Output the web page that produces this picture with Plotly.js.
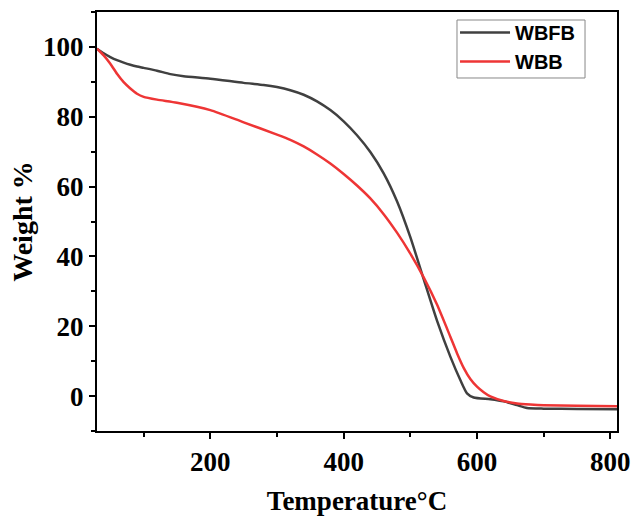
<!DOCTYPE html>
<html>
<head>
<meta charset="utf-8">
<script src="https://cdn.plot.ly/plotly-3.0.1.min.js"></script>
<style>html,body{margin:0;padding:0;background:#fff;}#chart{width:633px;height:516px;}</style>
</head>
<body>
<div id="chart"></div>
<script>
// WBFB series (temperature °C, weight %)
var wbfbTemp = [30, 40, 50, 60, 70, 80, 90, 100, 120, 140, 160, 200, 250, 280, 300, 320, 340, 360, 380, 400, 420, 440, 460, 480, 500, 520, 540, 560, 575, 585, 595, 620, 640, 660, 675, 700, 750, 810];
var wbfbWeight = [99.5, 98.2, 97.1, 96.2, 95.5, 94.9, 94.4, 94.0, 93.2, 92.2, 91.6, 90.9, 89.7, 89.1, 88.5, 87.6, 86.3, 84.4, 81.9, 78.7, 74.7, 69.9, 63.8, 55.8, 45.5, 33.5, 21.6, 11.3, 4.6, 0.8, -0.4, -0.9, -1.5, -2.6, -3.4, -3.6, -3.7, -3.8];

// WBB series
var wbbTemp = [30, 40, 50, 60, 70, 80, 90, 100, 120, 150, 200, 250, 300, 320, 340, 360, 380, 400, 420, 440, 460, 480, 500, 520, 540, 560, 570, 580, 590, 600, 610, 620, 640, 660, 680, 700, 750, 810];
var wbbWeight = [99.5, 97.6, 95.2, 92.3, 89.9, 88.1, 86.6, 85.7, 84.9, 84.0, 81.9, 78.4, 74.9, 73.4, 71.5, 69.2, 66.6, 63.6, 60.3, 56.6, 52.1, 46.8, 40.8, 34.0, 26.2, 17.0, 12.3, 8.1, 4.9, 2.7, 1.1, -0.1, -1.4, -2.1, -2.4, -2.6, -2.8, -2.9];

var seriesNames = ['WBFB', 'WBB'];
var xTicks = [200, 400, 600, 800];
var yTicks = [0, 20, 40, 60, 80, 100];

var serif = 'Liberation Serif, Times New Roman, serif';
var traces = [
  {x: wbfbTemp, y: wbfbWeight, name: seriesNames[0], type: 'scatter', mode: 'lines',
   line: {color: '#404040', width: 2.5, shape: 'spline', smoothing: 0.6}},
  {x: wbbTemp, y: wbbWeight, name: seriesNames[1], type: 'scatter', mode: 'lines',
   line: {color: '#ee3535', width: 2.5, shape: 'spline', smoothing: 0.6}}
];

var axisCommon = {
  showline: true, mirror: true, linecolor: '#000', linewidth: 2,
  ticks: 'outside', ticklen: 6, tickwidth: 2, tickcolor: '#000',
  showgrid: false, zeroline: false,
  tickfont: {family: serif, size: 27, color: '#000', weight: 'bold'}
};

var layout = {
  width: 633, height: 516,
  margin: {l: 97, r: 16, t: 12, b: 85},
  paper_bgcolor: '#fff', plot_bgcolor: '#fff',
  showlegend: true,
  legend: {x: 0.6885, y: 0.9976, xanchor: 'left', yanchor: 'top',
    borderwidth: 0, bgcolor: 'rgba(0,0,0,0)',
    font: {family: 'Liberation Sans, Arial, sans-serif', size: 20, color: '#000', weight: 'bold'},
    itemwidth: 50, tracegroupgap: 0},
  shapes: [{type: 'rect', xref: 'paper', yref: 'paper',
    x0: 0.6923, x1: 0.9385, y0: 0.8425, y1: 0.9809,
    line: {color: '#888', width: 1}, fillcolor: 'rgba(0,0,0,0)', layer: 'below'}],
  xaxis: Object.assign({}, axisCommon, {
    range: [30, 810], tickvals: xTicks, ticktext: xTicks.map(String),
    minor: {ticks: 'outside', ticklen: 4, tickwidth: 2, tickcolor: '#000', dtick: 100, tick0: 0},
    title: {text: 'Temperature°C', standoff: 16,
      font: {family: serif, size: 27, color: '#000', weight: 'bold'}}
  }),
  yaxis: Object.assign({}, axisCommon, {
    range: [-10, 110], tickvals: yTicks, ticktext: yTicks.map(String),
    minor: {ticks: 'outside', ticklen: 4, tickwidth: 2, tickcolor: '#000', dtick: 10, tick0: 0},
    title: {text: 'Weight %', standoff: 2,
      font: {family: serif, size: 28, color: '#000', weight: 'bold'}}
  })
};

Plotly.newPlot('chart', traces, layout, {displayModeBar: false, staticPlot: true});
</script>
</body>
</html>
